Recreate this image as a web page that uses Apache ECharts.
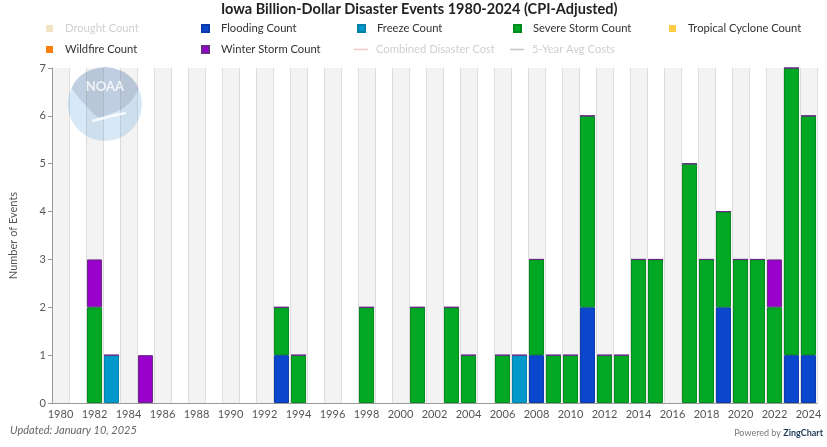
<!DOCTYPE html>
<html>
<head>
<meta charset="utf-8">
<script src="https://cdn.jsdelivr.net/npm/echarts@6/dist/echarts.min.js"></script>
<style>html,body{margin:0;padding:0;background:#fff}#c{width:827px;height:447px}</style>
</head>
<body>
<div id="c"></div>
<script>
const years = [];
for (let y = 1980; y <= 2024; y++) years.push(String(y));

// Values per year 1980..2024 (45 entries)
const floodingCount = [0,0,0,0,0,0,0,0,0,0, 0,0,0,1,0,0,0,0,0,0, 0,0,0,0,0,0,0,0,1,0, 0,2,0,0,0,0,0,0,0,2, 0,0,0,1,1];
const freezeCount   = [0,0,0,1,0,0,0,0,0,0, 0,0,0,0,0,0,0,0,0,0, 0,0,0,0,0,0,0,1,0,0, 0,0,0,0,0,0,0,0,0,0, 0,0,0,0,0];
const severeStormCount = [0,0,2,0,0,0,0,0,0,0, 0,0,0,1,1,0,0,0,2,0, 0,2,0,2,1,0,1,0,2,1, 1,4,1,1,3,3,0,5,3,2, 3,3,2,6,5];
const winterStormCount = [0,0,1,0,0,1,0,0,0,0, 0,0,0,0,0,0,0,0,0,0, 0,0,0,0,0,0,0,0,0,0, 0,0,0,0,0,0,0,0,0,0, 0,0,1,0,0];
const droughtCount = [];
const tropicalCycloneCount = [];
const wildfireCount = [];
const combinedDisasterCost = [];
const fiveYearAvgCosts = [];

const TFONT = 'Lato, "Open Sans", sans-serif';
const C = {
  drought: '#f1e3c3', flood: '#0b47cc', freeze: '#0099cc', storm: '#00a823',
  tropical: '#ffcc44', wildfire: '#ff7f0e', winter: '#9900cc'
};
const SQ = 'path://M0,0 M6,0.5 L13,0.5 L13,7.5 L6,7.5 Z M20,8';
const LN = 'path://M0,0 M3,3.2 L17,3.2 L17,4.8 L3,4.8 Z M20,8';

function nz(arr){ return arr.map(v => v === 0 ? null : v); }
// thin cap line drawn by zero-height winter-storm segment on top of each non-empty stack
const winterCap = winterStormCount.map((v, i) =>
  v ? v : ((floodingCount[i] + freezeCount[i] + severeStormCount[i]) > 0 ? 0 : null));

const barBase = { type: 'bar', stack: 'events', barCategoryGap: '12%' };

const legendItems = [
  ['Drought Count', 0, 0, SQ, C.drought, true],
  ['Flooding Count', 1, 0, SQ, null, false],
  ['Freeze Count', 2, 0, SQ, null, false],
  ['Severe Storm Count', 3, 0, SQ, null, false],
  ['Tropical Cyclone Count', 4, 0, SQ, null, false],
  ['Wildfire Count', 0, 1, SQ, null, false],
  ['Winter Storm Count', 1, 1, SQ, null, false],
  ['Combined Disaster Cost', 2, 1, LN, '#f4caca', true],
  ['5-Year Avg Costs', 3, 1, LN, '#c8c8c8', true]
];
const colLeft = [40, 195, 351, 507, 663];
const rowTop = [23, 44];
const legends = legendItems.map(([name, col, row, icon, color, faded]) => ({
  left: colLeft[col], top: rowTop[row], padding: 0,
  itemWidth: 20, itemHeight: 8,
  textStyle: { fontFamily: TFONT, fontSize: 11.2, color: faded ? '#d0d0d0' : '#333' },
  data: [Object.assign({ name: name, icon: icon }, color ? { itemStyle: { color: color } } : {})]
}));

const chart = echarts.init(document.getElementById('c'), null, {renderer: 'canvas'});
chart.setOption({
  animation: false,
  textStyle: { fontFamily: TFONT },
  title: {
    text: 'Iowa Billion-Dollar Disaster Events 1980-2024 (CPI-Adjusted)',
    left: 221, top: 2, padding: 0,
    textStyle: { fontFamily: TFONT, fontSize: 14.5, fontWeight: 'bold', color: '#222' }
  },
  legend: legends,
  grid: { left: 49, right: 10, top: 68, bottom: 44, containLabel: false },
  xAxis: {
    type: 'category', data: years,
    axisLine: { lineStyle: { color: '#999' } },
    axisTick: { interval: 0, length: 4, lineStyle: { color: '#999' } },
    axisLabel: { interval: 1, color: '#555', fontSize: 11, margin: 6, fontFamily: TFONT },
    splitLine: { show: true, interval: 0, lineStyle: { color: '#dcdcdc' } },
    splitArea: { show: true, interval: 0, areaStyle: { color: ['#f3f3f3', '#ffffff'] } }
  },
  yAxis: {
    type: 'value', min: 0, max: 7, interval: 1,
    name: 'Number of Events', nameLocation: 'middle', nameGap: 33,
    nameTextStyle: { color: '#555', fontSize: 11, fontFamily: TFONT },
    axisLine: { show: true, lineStyle: { color: '#999' } },
    axisTick: { show: true, length: 4, lineStyle: { color: '#999' } },
    axisLabel: { color: '#555', fontSize: 11, margin: 6, fontFamily: TFONT },
    splitLine: { lineStyle: { color: '#ececec' } }
  },
  graphic: [
    { type: 'circle', z: 50, silent: true, shape: { cx: 105, cy: 104, r: 37 }, style: { fill: 'rgba(55,140,208,0.2)' } },
    { type: 'polygon', z: 51, silent: true, shape: { smooth: 0.25, points: [[72,88],[77,79],[86,72],[105,67],[124,72],[133,79],[138,88],[132,100],[122,109],[110,114],[98,117],[89,109],[80,99]] }, style: { fill: 'rgba(110,115,145,0.22)' } },
    { type: 'polyline', z: 52, silent: true, shape: { smooth: 0.5, points: [[92,121],[104,118],[116,115],[126,113]] }, style: { stroke: 'rgba(255,255,255,0.8)', lineWidth: 2.5, fill: null } },
    { type: 'text', z: 52, silent: true, style: { text: 'NOAA', x: 105, y: 87, align: 'center', verticalAlign: 'middle', fill: 'rgba(255,255,255,0.8)', font: 'bold 13px ' + TFONT } },
    { type: 'text', left: 10, top: 425, style: { text: 'Updated: January 10, 2025', fill: '#666', font: 'italic 11px ' + TFONT } },
    { type: 'text', right: 4, top: 429, style: {
      text: '{a|Powered by }{b|ZingChart}',
      rich: { a: { fill: '#777', fontSize: 9, fontFamily: TFONT }, b: { fill: '#1b3a57', fontSize: 9, fontWeight: 'bold', fontFamily: TFONT } }
    } }
  ],
  series: [
    Object.assign({}, barBase, { name: 'Drought Count', data: droughtCount, itemStyle: { color: C.drought } }),
    Object.assign({}, barBase, { name: 'Flooding Count', data: nz(floodingCount), itemStyle: { color: C.flood, borderColor: '#0a3aa8', borderWidth: 1 } }),
    Object.assign({}, barBase, { name: 'Freeze Count', data: nz(freezeCount), itemStyle: { color: C.freeze, borderColor: '#007fa8', borderWidth: 1 } }),
    Object.assign({}, barBase, { name: 'Severe Storm Count', data: nz(severeStormCount), itemStyle: { color: C.storm, borderColor: '#008a1d', borderWidth: 1 } }),
    Object.assign({}, barBase, { name: 'Tropical Cyclone Count', data: tropicalCycloneCount, itemStyle: { color: C.tropical } }),
    Object.assign({}, barBase, { name: 'Wildfire Count', data: wildfireCount, itemStyle: { color: C.wildfire } }),
    Object.assign({}, barBase, { name: 'Winter Storm Count', data: winterCap, itemStyle: { color: C.winter, borderColor: '#6a2a88', borderWidth: 1 } }),
    { type: 'line', name: 'Combined Disaster Cost', data: combinedDisasterCost, itemStyle: { color: '#f4caca' } },
    { type: 'line', name: '5-Year Avg Costs', data: fiveYearAvgCosts, itemStyle: { color: '#c8c8c8' } }
  ]
});
</script>
</body>
</html>
